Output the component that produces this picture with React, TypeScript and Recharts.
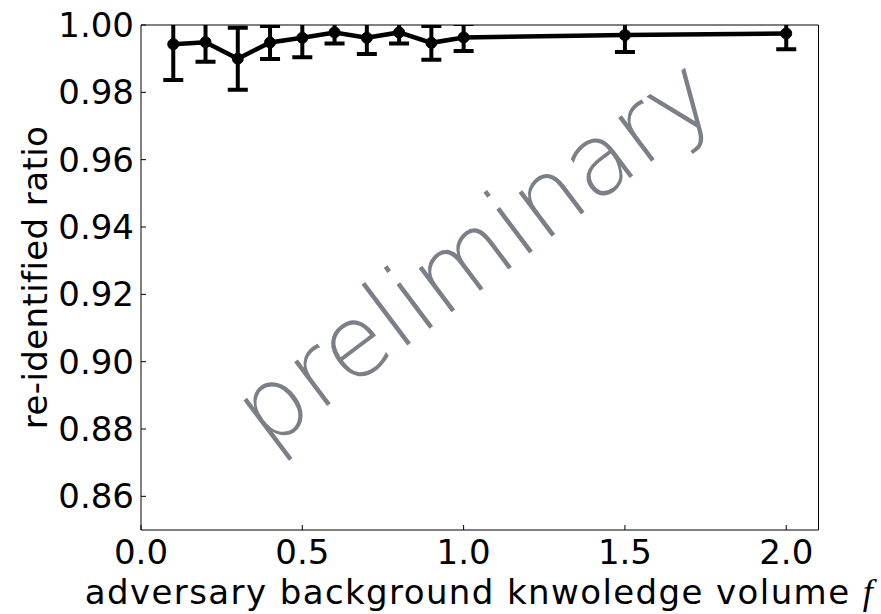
import React from 'react';
import { LineChart, Line, XAxis, YAxis, ErrorBar, Label } from 'recharts';

const volumes = [0.1, 0.2, 0.3, 0.4, 0.5, 0.6, 0.7, 0.8, 0.9, 1.0, 1.5, 2.0];
const ratios = [0.9943, 0.9949, 0.9900, 0.9948, 0.9962, 0.9978, 0.9962, 0.9978, 0.9947, 0.9963, 0.9970, 0.9975];
const errors = [0.0106, 0.0058, 0.0092, 0.0049, 0.0058, 0.0033, 0.0048, 0.0033, 0.0050, 0.0040, 0.0050, 0.0047];
const xTicks = [0, 0.5, 1.0, 1.5, 2.0];
const yTicks = [0.86, 0.88, 0.9, 0.92, 0.94, 0.96, 0.98, 1.0];

const data = volumes.map((v, i) => ({ f: v, ratio: ratios[i], err: errors[i] }));

const FONT = 'DejaVu Sans';
const FS = 34;

const YTitle = (props: any) => {
  const vb = props.viewBox;
  const cx = 47;
  const cy = vb.y + vb.height / 2;
  return (
    <text x={cx} y={cy} transform={`rotate(-90 ${cx} ${cy})`} textAnchor="middle" fontFamily={FONT} fontSize={FS} letterSpacing={0.4} fill="#000">
      re-identified ratio
    </text>
  );
};

const XTitle = (props: any) => {
  const vb = props.viewBox;
  const cx = vb.x + vb.width / 2 - 1;
  return (
    <text x={cx} y={604} textAnchor="middle" fontFamily={FONT} fontSize={FS} letterSpacing={1.4} fill="#000">
      adversary background knwoledge volume{' '}
      <tspan fontFamily="Liberation Serif" fontStyle="italic" fontSize={36} letterSpacing={0}>f</tspan>
    </text>
  );
};

export default function App() {
  return (
    <div style={{ position: 'absolute', left: 0, top: 0, width: 881, height: 614, background: '#fff' }}>
      <style>{`.recharts-errorBars { clip-path: url(#plotClip); }`}</style>
      <LineChart width={881} height={614} data={data} margin={{ top: 20, right: 52.5, left: 0, bottom: 0 }}>
        <XAxis
          xAxisId="bottom"
          dataKey="f"
          type="number"
          domain={[0, 2.1]}
          ticks={xTicks}
          allowDataOverflow
          tickFormatter={(v: number) => v.toFixed(1)}
          tickSize={-5}
          tickMargin={15}
          height={84}
          axisLine={{ stroke: '#000', strokeWidth: 1 }}
          tickLine={{ stroke: '#000', strokeWidth: 1 }}
          tick={{ fill: '#000', fontSize: FS, fontFamily: FONT }}
        >
          <Label content={XTitle} />
        </XAxis>
        <XAxis
          xAxisId="top"
          orientation="top"
          dataKey="f"
          type="number"
          domain={[0, 2.1]}
          ticks={xTicks}
          allowDataOverflow
          tickSize={-5}
          height={5}
          tick={false}
          axisLine={{ stroke: '#000', strokeWidth: 1 }}
          tickLine={{ stroke: '#000', strokeWidth: 1 }}
        />
        <YAxis
          yAxisId="left"
          type="number"
          domain={[0.85, 1.0]}
          ticks={yTicks}
          allowDataOverflow
          tickFormatter={(v: number) => v.toFixed(2)}
          tickSize={-5}
          tickMargin={12}
          width={141}
          axisLine={{ stroke: '#000', strokeWidth: 1 }}
          tickLine={{ stroke: '#000', strokeWidth: 1 }}
          tick={{ fill: '#000', fontSize: FS, fontFamily: FONT }}
        >
          <Label content={YTitle} />
        </YAxis>
        <YAxis
          yAxisId="right"
          orientation="right"
          type="number"
          domain={[0.85, 1.0]}
          ticks={yTicks}
          allowDataOverflow
          tickSize={-5}
          width={10}
          tick={false}
          axisLine={{ stroke: '#000', strokeWidth: 1 }}
          tickLine={{ stroke: '#000', strokeWidth: 1 }}
        />
        <Line
          xAxisId="bottom"
          yAxisId="left"
          dataKey="ratio"
          stroke="#000"
          strokeWidth={4.5}
          dot={{ r: 5.5, fill: '#000', stroke: '#000', strokeWidth: 1 }}
          isAnimationActive={false}
        >
          <ErrorBar dataKey="err" direction="y" width={10} stroke="#000" strokeWidth={4} isAnimationActive={false} />
        </Line>
      </LineChart>
      <svg width={881} height={614} style={{ position: 'absolute', left: 0, top: 0, pointerEvents: 'none' }}>
        <defs>
          <clipPath id="plotClip" clipPathUnits="userSpaceOnUse">
            <rect x={141} y={25} width={677.5} height={505} />
          </clipPath>
        </defs>
        <text
          x={474}
          y={252}
          transform="rotate(-37 474 252)"
          textAnchor="middle"
          dominantBaseline="central"
          fontFamily={FONT}
          fontWeight={200}
          fontSize={100}
          fill="#7b7f87"
        >
          preliminary
        </text>
      </svg>
    </div>
  );
}
